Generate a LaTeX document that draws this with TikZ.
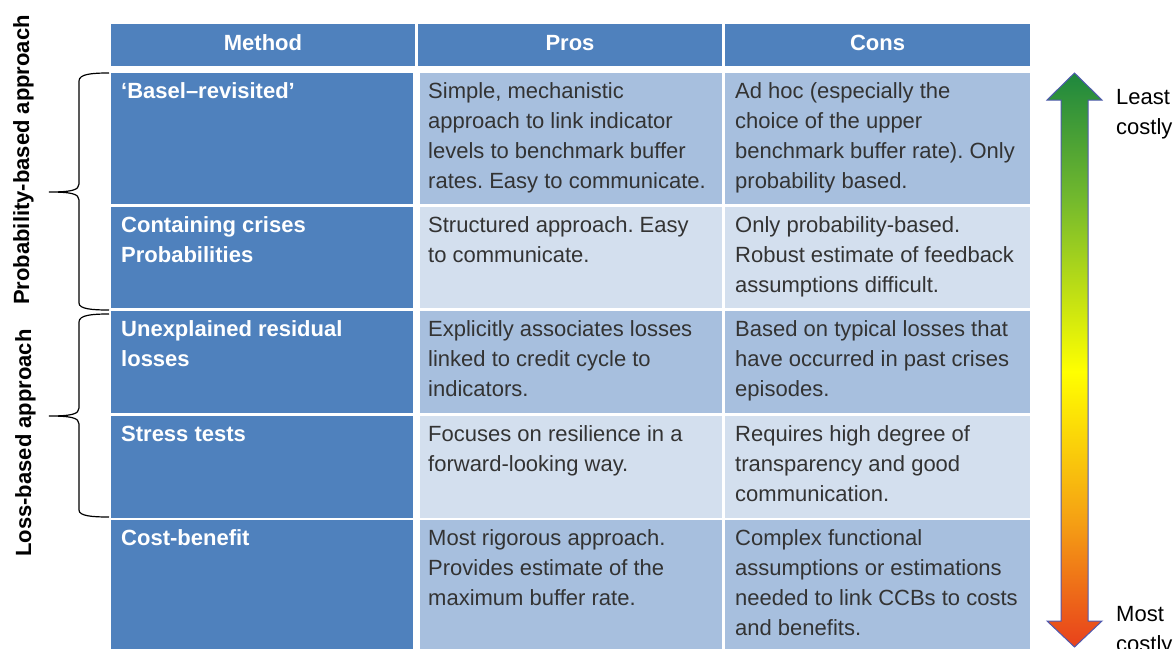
\documentclass[tikz,border=0pt]{standalone}
\usepackage{fontspec}
\setmainfont{Liberation Sans}
\usepackage{xcolor}
\usepackage{tikz}
\usetikzlibrary{positioning}
\frenchspacing

\definecolor{hdblue}{RGB}{79,129,189}
\definecolor{celldark}{RGB}{167,191,222}
\definecolor{celllight}{RGB}{211,223,238}
\definecolor{txtgray}{RGB}{51,51,51}
\definecolor{arrline}{RGB}{80,90,175}
\definecolor{gtop}{RGB}{30,135,62}
\definecolor{ggreen}{RGB}{115,185,45}
\definecolor{gyellow}{RGB}{255,255,0}
\definecolor{gorange}{RGB}{245,160,20}
\definecolor{gred}{RGB}{232,65,28}
\pgfdeclareverticalshading{costshade}{100bp}{color(0bp)=(gred); color(25bp)=(gred); color(36bp)=(gorange); color(49bp)=(gyellow); color(64bp)=(ggreen); color(75bp)=(gtop); color(100bp)=(gtop)}

\begin{document}
\begin{tikzpicture}[x=1pt, y=-1pt,
hdcell/.style={rectangle, fill=hdblue, text=white, font=\bfseries\fontsize{22pt}{26pt}\selectfont, minimum height=42pt, inner sep=0pt, outer sep=0pt, text height=16pt, text depth=6pt},
methcell/.style={rectangle, fill=hdblue, minimum width=302pt, inner sep=0pt, outer sep=0pt},
proscell/.style={rectangle, minimum width=302pt, inner sep=0pt, outer sep=0pt},
conscell/.style={rectangle, minimum width=305pt, inner sep=0pt, outer sep=0pt},
darkrow/.style={fill=celldark},
lightrow/.style={fill=celllight},
celltxt/.style={inner sep=0pt, align=left, text=txtgray, font=\fontsize{22pt}{30pt}\selectfont},
methtxt/.style={celltxt, text=white, font=\bfseries\fontsize{22pt}{30pt}\selectfont},
sidelabel/.style={rotate=90, anchor=base, font=\bfseries\fontsize{22pt}{26pt}\selectfont},
sidetxt/.style={anchor=north west, inner sep=0pt, align=left, font=\fontsize{22pt}{30pt}\selectfont},
bracel/.style={draw=black, line width=1.2pt},
costarrow/.style={draw=arrline, line width=1pt, shading=costshade},
]
\useasboundingbox (0,0) rectangle (1175,648);

%Header
\node[hdcell, minimum width=304pt, anchor=north west] (methhd) at (111,24) {Method};
\node[hdcell, minimum width=304pt] (proshd) [right=3pt of methhd] {Pros};
\node[hdcell, minimum width=305pt] (conshd) [right=3pt of proshd] {Cons};

%Rows
\node[methcell, minimum height=131pt] (meth1) [below right=7pt and 0pt of methhd.south west] {};
\node[proscell, darkrow, minimum height=131pt] (pros1) [right=7pt of meth1] {};
\node[conscell, darkrow, minimum height=131pt] (cons1) [right=3pt of pros1] {};

\node[methcell, minimum height=101pt] (meth2) [below=3pt of meth1] {};
\node[proscell, lightrow, minimum height=101pt] (pros2) [right=7pt of meth2] {};
\node[conscell, lightrow, minimum height=101pt] (cons2) [right=3pt of pros2] {};

\node[methcell, minimum height=102pt] (meth3) [below=3pt of meth2] {};
\node[proscell, darkrow, minimum height=102pt] (pros3) [right=7pt of meth3] {};
\node[conscell, darkrow, minimum height=102pt] (cons3) [right=3pt of pros3] {};

\node[methcell, minimum height=102pt] (meth4) [below=3pt of meth3] {};
\node[proscell, lightrow, minimum height=102pt] (pros4) [right=7pt of meth4] {};
\node[conscell, lightrow, minimum height=102pt] (cons4) [right=3pt of pros4] {};

\node[methcell, minimum height=140pt] (meth5) [below=2pt of meth4] {};
\node[proscell, darkrow, minimum height=140pt] (pros5) [right=7pt of meth5] {};
\node[conscell, darkrow, minimum height=140pt] (cons5) [right=3pt of pros5] {};

%Cell texts
\node[methtxt] (tmeth1) [below right=9.5pt and 10pt of meth1.north west] {‘Basel–revisited’};
\node[celltxt] (tpros1) [below right=9.5pt and 8pt of pros1.north west] {Simple, mechanistic\\approach to link indicator\\levels to benchmark buffer\\rates. Easy to communicate.};
\node[celltxt] (tcons1) [below right=9.5pt and 10pt of cons1.north west] {Ad hoc (especially the\\choice of the upper\\benchmark buffer rate). Only\\probability based.};

\node[methtxt] (tmeth2) [below right=9.5pt and 10pt of meth2.north west] {Containing crises\\Probabilities};
\node[celltxt] (tpros2) [below right=9.5pt and 8pt of pros2.north west] {Structured approach. Easy\\to communicate.};
\node[celltxt] (tcons2) [below right=9.5pt and 10pt of cons2.north west] {Only probability-based.\\Robust estimate of feedback\\assumptions difficult.};

\node[methtxt] (tmeth3) [below right=9.5pt and 10pt of meth3.north west] {Unexplained residual\\losses};
\node[celltxt] (tpros3) [below right=9.5pt and 8pt of pros3.north west] {Explicitly associates losses\\linked to credit cycle to\\indicators.};
\node[celltxt] (tcons3) [below right=9.5pt and 10pt of cons3.north west] {Based on typical losses that\\have occurred in past crises\\episodes.};

\node[methtxt] (tmeth4) [below right=9.5pt and 10pt of meth4.north west] {Stress tests};
\node[celltxt] (tpros4) [below right=9.5pt and 8pt of pros4.north west] {Focuses on resilience in a\\forward-looking way.};
\node[celltxt] (tcons4) [below right=9.5pt and 10pt of cons4.north west] {Requires high degree of\\transparency and good\\communication.};

\node[methtxt] (tmeth5) [below right=9.5pt and 10pt of meth5.north west] {Cost-benefit};
\node[celltxt] (tpros5) [below right=9.5pt and 8pt of pros5.north west] {Most rigorous approach.\\Provides estimate of the\\maximum buffer rate.};
\node[celltxt] (tcons5) [below right=9.5pt and 10pt of cons5.north west] {Complex functional\\assumptions or estimations\\needed to link CCBs to costs\\and benefits.};

%Braces
\node[sidelabel] (probab) at (29,160) {Probability-based approach};
\node[sidelabel] (lossb) at (31,443) {Loss-based approach};
\draw[bracel] (109,73) .. controls (92,73) and (79,74) .. (79,81) -- (79,184) .. controls (79,190) and (72,192) .. (49,192) .. controls (72,192) and (79,194) .. (79,200) -- (79,303) .. controls (79,309) and (92,310) .. (109,310);
\draw[bracel] (109,314) .. controls (92,314) and (79,315) .. (79,322) -- (79,408) .. controls (79,414) and (72,416) .. (49,416) .. controls (72,416) and (79,418) .. (79,424) -- (79,510) .. controls (79,516) and (92,517) .. (109,517);

%Arrow
\draw[costarrow] (1074.5,73) -- (1102,100) -- (1088,100) -- (1088,621) -- (1102,621) -- (1074.5,647) -- (1047,621) -- (1061,621) -- (1061,100) -- (1047,100) -- cycle;
\node[sidetxt] (least) at (1116,89) {Least\\costly};
\node[sidetxt] (most) at (1116,606) {Most\\costly};
\end{tikzpicture}
\end{document}
